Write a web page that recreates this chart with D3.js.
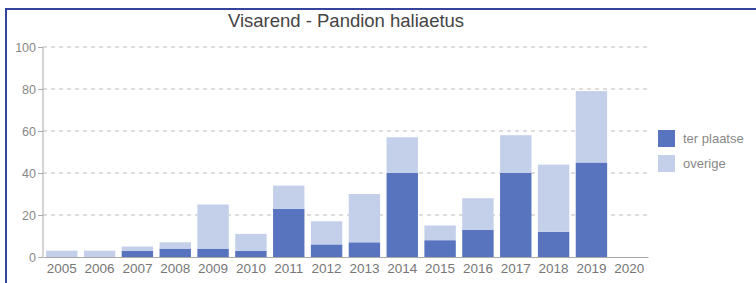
<!DOCTYPE html>
<html>
<head>
<meta charset="utf-8">
<script src="https://cdn.jsdelivr.net/npm/d3@7"></script>
<style>
  body { margin: 0; background: #fff; }
  svg { display: block; font-family: "Liberation Sans", Arial, sans-serif; }
</style>
</head>
<body>
<svg width="756" height="283"></svg>
<script>
// data
var years = ["2005", "2006", "2007", "2008", "2009", "2010", "2011", "2012",
  "2013", "2014", "2015", "2016", "2017", "2018", "2019", "2020"];
var terPlaatse = [0, 0, 3, 4, 4, 3, 23, 6, 7, 40, 8, 13, 40, 12, 45, 0];
var overige = [3, 3, 2, 3, 21, 8, 11, 11, 23, 17, 7, 15, 18, 32, 34, 0];
var seriesNames = ["ter plaatse", "overige"];
var yTicks = [0, 20, 40, 60, 80, 100];

var colors = ["#5874bf", "#c4d0ea"];

var svg = d3.select("svg"),
  width = +svg.attr("width"),
  height = +svg.attr("height");

// frame lines (left + top)
svg.append("line").attr("x1", 6).attr("x2", 6).attr("y1", 8).attr("y2", height)
  .attr("stroke", "#35449a").attr("stroke-width", 2);
svg.append("line").attr("x1", 5).attr("x2", width).attr("y1", 9).attr("y2", 9)
  .attr("stroke", "#35449a").attr("stroke-width", 2);

var x = d3.scaleBand().domain(years).range([43, 648]).paddingInner(0.17).paddingOuter(0.08);
var y = d3.scaleLinear().domain([0, 100]).range([257, 47]);

// grid
svg.append("g")
  .selectAll("line")
  .data(yTicks.filter(function(d) { return d > 0; }))
  .enter()
  .append("line")
  .attr("x1", 43)
  .attr("x2", 648)
  .attr("y1", function(d) { return y(d); })
  .attr("y2", function(d) { return y(d); })
  .attr("stroke", "#bbb")
  .attr("stroke-dasharray", "4,4");

var rows = years.map(function(yr, i) {
  return { year: yr, "ter plaatse": terPlaatse[i], overige: overige[i] };
});
var stack = d3.stack().keys(seriesNames)(rows);

svg.append("g")
  .selectAll("g")
  .data(stack)
  .enter()
  .append("g")
  .attr("fill", function(d, i) { return colors[i]; })
  .selectAll("rect")
  .data(function(d) { return d; })
  .enter()
  .append("rect")
  .attr("x", function(d) { return x(d.data.year); })
  .attr("width", x.bandwidth())
  .attr("y", function(d) { return y(d[1]); })
  .attr("height", function(d) { return y(d[0]) - y(d[1]); });

// y axis
var yAxis = svg.append("g")
  .attr("transform", "translate(43,0)")
  .call(d3.axisLeft(y).tickValues(yTicks).tickSize(5).tickPadding(2));
yAxis.selectAll("text").attr("fill", "#888").attr("font-size", 12.5);
yAxis.selectAll("line").attr("stroke", "#aaa");
yAxis.select(".domain").attr("stroke", "#aaa").attr("d", "M0,47V257");

// x axis
var xAxis = svg.append("g")
  .attr("transform", "translate(0,257)")
  .call(d3.axisBottom(x).tickSize(0).tickPadding(6));
xAxis.selectAll("text").attr("fill", "#777").attr("font-size", 13.5);
xAxis.select(".domain").attr("stroke", "#aaa");

// title
svg.append("text")
  .attr("x", 346)
  .attr("y", 27)
  .attr("text-anchor", "middle")
  .attr("fill", "#444")
  .attr("font-size", 18.5)
  .text("Visarend - Pandion haliaetus");

// legend
var legend = svg.append("g")
  .selectAll("g")
  .data(seriesNames)
  .enter()
  .append("g")
  .attr("transform", function(d, i) { return "translate(658," + (130 + i * 25) + ")"; });
legend.append("rect")
  .attr("width", 17)
  .attr("height", 17)
  .attr("fill", function(d, i) { return colors[i]; });
legend.append("text")
  .attr("x", 25)
  .attr("y", 13)
  .attr("fill", "#888")
  .attr("font-size", 13)
  .text(function(d) { return d; });
</script>
</body>
</html>
